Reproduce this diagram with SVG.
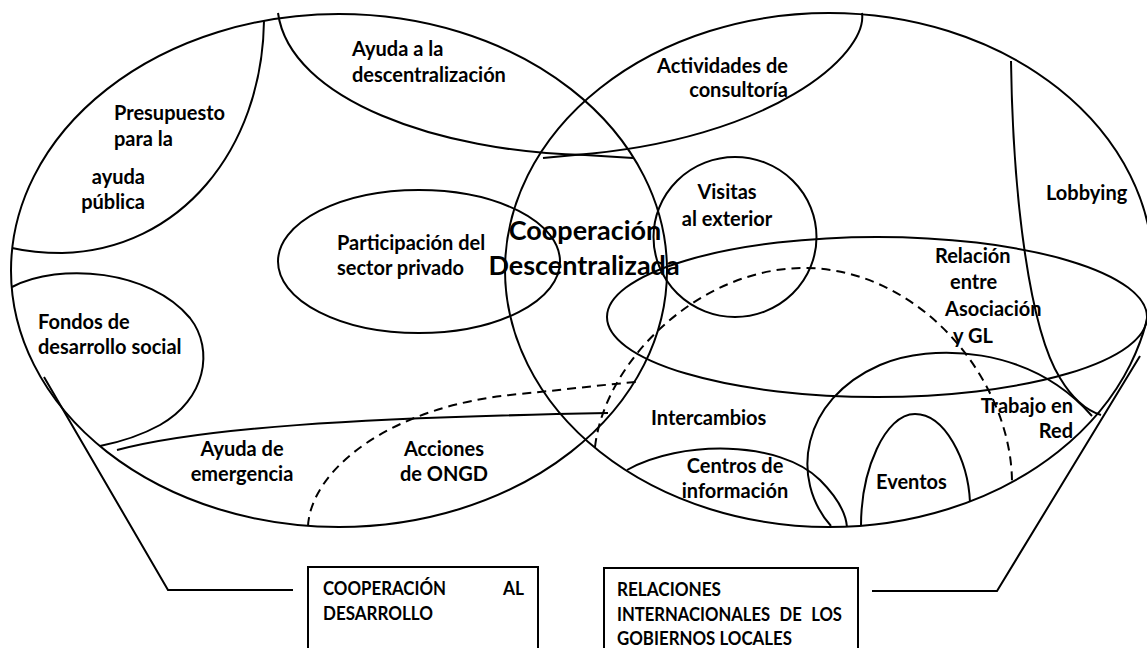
<svg xmlns="http://www.w3.org/2000/svg" width="1147" height="648" viewBox="0 0 1147 648">
<style>
.s{fill:none;stroke:#000;stroke-width:2}
.d{fill:none;stroke:#000;stroke-width:2;stroke-dasharray:9 6}
.t{font-family:Lato,"Open Sans","Liberation Sans",sans-serif;font-weight:700;font-size:20px;fill:#000}
.m{text-anchor:middle}
.e{text-anchor:end}
.big{font-size:27px}
.cap{font-size:18.5px}
</style>
<rect x="0" y="0" width="1147" height="648" fill="#fff"/>
<g id="cooperacion-desarrollo">
<ellipse class="s" cx="339" cy="270.5" rx="328" ry="256.5"/>
</g>
<g id="relaciones-internacionales">
<ellipse class="s" cx="829" cy="270" rx="324" ry="257"/>
</g>
<g id="presupuesto">
<path class="s" d="M264 21 C262 150 180 250 62 253 C40 253 25 251 12 248"/>
<text class="t" x="114" y="120">Presupuesto</text>
<text class="t" x="114" y="146">para la</text>
<text class="t e" x="145" y="184">ayuda</text>
<text class="t e" x="145" y="209">pública</text>
</g>
<g id="ayuda-descentralizacion">
<path class="s" d="M278 13 C290 100 440 152 585 155 L633 158"/>
<text class="t" x="352" y="56">Ayuda a la</text>
<text class="t" x="352" y="82">descentralización</text>
</g>
<g id="actividades-consultoria">
<path class="s" d="M862 13 C868 55 770 140 575 155 L543 158"/>
<text class="t e" x="788" y="73">Actividades de</text>
<text class="t e" x="788" y="97">consultoría</text>
</g>
<g id="participacion-sector-privado">
<ellipse class="s" cx="419" cy="261.5" rx="141" ry="71.5"/>
<text class="t" x="337" y="250">Participación del</text>
<text class="t" x="337" y="275">sector privado</text>
</g>
<g id="fondos-desarrollo-social">
<path class="s" d="M12 287 C60 262 150 270 190 318 C215 350 205 400 160 425 C140 436 120 442 100 446"/>
<text class="t" x="38" y="329">Fondos de</text>
<text class="t" x="38" y="354">desarrollo social</text>
</g>
<g id="ayuda-emergencia">
<path class="s" d="M117 450 C200 428 350 418 608 413"/>
<text class="t m" x="242" y="456">Ayuda de</text>
<text class="t m" x="242" y="481">emergencia</text>
</g>
<g id="acciones-ongd">
<path class="d" d="M308 526 C311 470 390 405 520 394 C570 389 610 384 637 382"/>
<text class="t m" x="444" y="456">Acciones</text>
<text class="t m" x="444" y="481">de ONGD</text>
</g>
<g id="cooperacion-descentralizada">
<text class="t m big" x="585" y="240">Cooperación</text>
<text class="t m big" x="584" y="275">Descentralizada</text>
</g>
<g id="visitas-exterior">
<ellipse class="s" cx="735" cy="237" rx="81.5" ry="80"/>
<text class="t m" x="727" y="199">Visitas</text>
<text class="t m" x="727" y="226">al exterior</text>
</g>
<g id="lobbying">
<path class="s" d="M1011 61 C1013 200 1030 330 1060 378 C1072 398 1085 410 1101 415"/>
<text class="t" x="1046" y="200">Lobbying</text>
</g>
<g id="relacion-asociacion-gl">
<ellipse class="s" cx="877" cy="317" rx="270" ry="80"/>
<text class="t" x="935" y="263">Relación</text>
<text class="t" x="950" y="289">entre</text>
<text class="t" x="945" y="316">Asociación</text>
<text class="t" x="953" y="343">y GL</text>
</g>
<g id="intercambios">
<path class="d" d="M595 447 C605 360 700 268 804 268 C920 268 1012 380 1012 483"/>
<text class="t" x="651" y="425">Intercambios</text>
</g>
<g id="trabajo-en-red">
<path class="s" d="M831 526 C790 480 800 400 880 365 C930 343 1030 345 1092 416"/>
<text class="t e" x="1073" y="413">Trabajo en</text>
<text class="t e" x="1073" y="438">Red</text>
</g>
<g id="centros-informacion">
<path class="s" d="M627 470 C680 440 780 440 820 480 C840 500 846 515 847 527"/>
<text class="t m" x="735" y="473">Centros de</text>
<text class="t m" x="735" y="498">información</text>
</g>
<g id="eventos">
<path class="s" d="M861 526 C861 470 885 414 915 414 C945 414 968 460 970 502"/>
<text class="t" x="876" y="489">Eventos</text>
</g>
<g id="box-cooperacion-desarrollo">
<rect class="s" x="308" y="567" width="230" height="90"/>
<text class="t cap" x="323" y="595" textLength="123" lengthAdjust="spacingAndGlyphs">COOPERACIÓN</text>
<text class="t cap" x="503" y="595" textLength="21" lengthAdjust="spacingAndGlyphs">AL</text>
<text class="t cap" x="323" y="620" textLength="110" lengthAdjust="spacingAndGlyphs">DESARROLLO</text>
</g>
<g id="box-relaciones-internacionales">
<rect class="s" x="604" y="568" width="254" height="90"/>
<text class="t cap" x="617" y="596" textLength="104" lengthAdjust="spacingAndGlyphs">RELACIONES</text>
<text class="t cap" x="617" y="621" textLength="225" lengthAdjust="spacingAndGlyphs" word-spacing="6">INTERNACIONALES DE LOS</text>
<text class="t cap" x="617" y="645" textLength="175" lengthAdjust="spacingAndGlyphs">GOBIERNOS LOCALES</text>
</g>
<g id="connectors">
<path class="s" d="M44 377 L168 590 L293 590"/>
<path class="s" d="M1140 356 L997 591 L872 591"/>
</g>
</svg>
